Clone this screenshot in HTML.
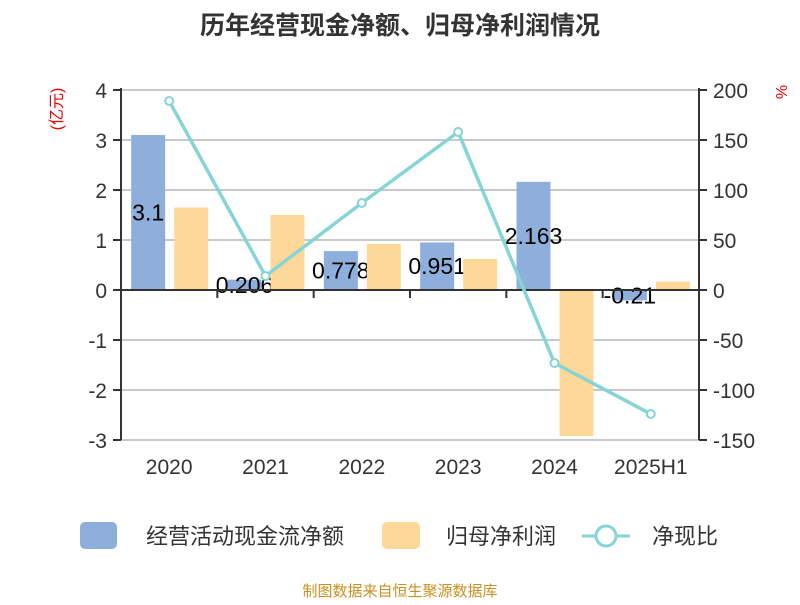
<!DOCTYPE html>
<html><head><meta charset="utf-8"><style>
body{margin:0;background:#fff;}
text{font-family:"Liberation Sans","Noto Sans CJK SC",sans-serif;}
</style></head><body>
<svg id="c" width="800" height="600" viewBox="0 0 800 600" xmlns="http://www.w3.org/2000/svg">
<text x="400" y="34" text-anchor="middle" font-size="25" font-weight="bold" fill="#333">历年经营现金净额、归母净利润情况</text>
<g id="grid"></g><g id="blue"></g><g id="labels"></g><g id="orange"></g><g id="axes"></g><g id="line"></g>
<text x="68" y="115" font-size="16" fill="#e00" transform="rotate(-90 62 115)" text-anchor="middle">(亿元)</text>
<text x="776" y="92" font-size="16" fill="#e00" transform="rotate(90 776 92)" text-anchor="middle">%</text>
<g>
<rect x="80" y="522" width="37" height="27" rx="5" fill="#8eaedb"/>
<text x="146" y="544" font-size="22" fill="#333">经营活动现金流净额</text>
<rect x="382" y="522" width="38" height="27" rx="5" fill="#fed898"/>
<text x="446" y="544" font-size="22" fill="#333">归母净利润</text>
<line x1="582" y1="536" x2="630" y2="536" stroke="#86d4d6" stroke-width="3"/>
<circle cx="606" cy="536" r="10" fill="#fff" stroke="#86d4d6" stroke-width="3"/>
<text x="652" y="544" font-size="22" fill="#333">净现比</text>
</g>
<text x="400" y="596" text-anchor="middle" font-size="15" fill="#c8901e">制图数据来自恒生聚源数据库</text>
</svg>
<script>
const categories=["2020","2021","2022","2023","2024","2025H1"];
const cashflow=[3.1,0.206,0.778,0.951,2.163,-0.21];
const cashLabels=["3.1","0.206","0.778","0.951","2.163","-0.21"];
const profit=[1.65,1.5,0.92,0.62,-2.92,0.17];
const ratio=[189,14,87,158,-73,-124];
const leftTicks=[4,3,2,1,0,-1,-2,-3];
const rightTicks=[200,150,100,50,0,-50,-100,-150];
const NS="http://www.w3.org/2000/svg";
const X0=121,X1=699,step=(X1-X0)/categories.length;
const yL=v=>290-v*50, yR=v=>290-v;
const cx=i=>X0+step*(i+0.5);
function mk(g,t,a){const e=document.createElementNS(NS,t);for(const k in a)e.setAttribute(k,a[k]);document.getElementById(g).appendChild(e);return e;}
leftTicks.forEach(v=>{
 if(v!==0){const l=mk('grid','line',{x1:X0,x2:X1,y1:yL(v),y2:yL(v),stroke:'#c8c8c8','stroke-width':2});}
 mk('axes','line',{x1:X0-8,x2:X0,y1:yL(v),y2:yL(v),stroke:'#333','stroke-width':2});
 const t=mk('axes','text',{x:X0-14,y:yL(v)+8,'text-anchor':'end','font-size':21,fill:'#333'});t.textContent=v;
 
});
rightTicks.forEach(v=>{
 mk('axes','line',{x1:X1,x2:X1+8,y1:yR(v),y2:yR(v),stroke:'#333','stroke-width':2});
 const t=mk('axes','text',{x:X1+14,y:yR(v)+8,'font-size':21,fill:'#333'});t.textContent=v;
 
});
let a=mk('axes','line',{x1:X0,x2:X0,y1:yL(4)-2,y2:yL(-3),stroke:'#333','stroke-width':2});

a=mk('axes','line',{x1:X1,x2:X1,y1:yR(200)-2,y2:yR(-150),stroke:'#333','stroke-width':2});

a=mk('axes','line',{x1:X0,x2:X1,y1:290,y2:290,stroke:'#333','stroke-width':2});

categories.forEach((c,i)=>{
 if(i>0)mk('axes','line',{x1:X0+step*i,x2:X0+step*i,y1:290,y2:298,stroke:'#333','stroke-width':2});
 const t=mk('axes','text',{x:cx(i),y:474,'text-anchor':'middle','font-size':21,fill:'#333'});t.textContent=c;
 
 const b=mk('blue','rect',{x:cx(i)-38,width:34,y:Math.min(yL(cashflow[i]),290),height:Math.abs(yL(cashflow[i])-290),fill:'#8eaedb'});
 
 const o=mk('orange','rect',{x:cx(i)+5,width:34,y:Math.min(yL(profit[i]),290),height:Math.abs(yL(profit[i])-290),fill:'#fed898'});
 
 const lb=mk('labels','text',{x:cx(i)-21,y:(yL(cashflow[i])+290)/2+8,'text-anchor':'middle','font-size':23,fill:'#000'});lb.textContent=cashLabels[i];
 
});
const pl=mk('line','polyline',{points:ratio.map((v,i)=>cx(i)+','+yR(v)).join(' '),fill:'none',stroke:'#86d4d6','stroke-width':3.5});

ratio.forEach((v,i)=>{const p=mk('line','circle',{cx:cx(i),cy:yR(v),r:4,fill:'#fff',stroke:'#86d4d6','stroke-width':2});
 });
</script>
</body></html>
